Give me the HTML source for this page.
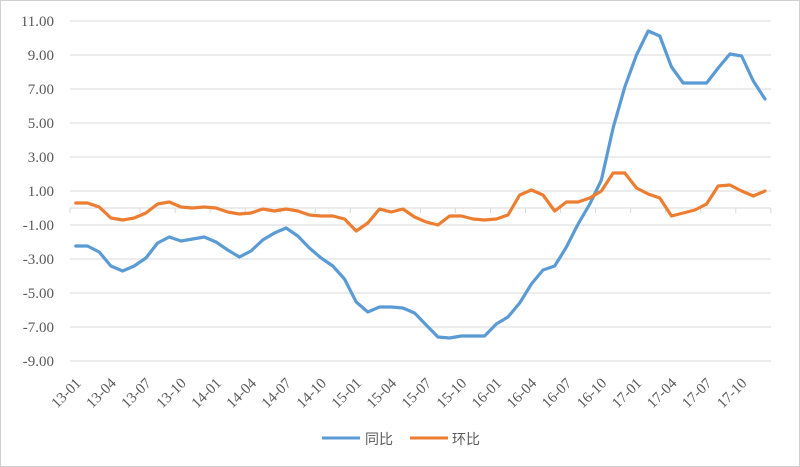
<!DOCTYPE html>
<html><head><meta charset="utf-8"><style>
html,body{margin:0;padding:0;background:#fff}
svg{display:block}
</style></head><body>
<svg id="s" width="800" height="467" xmlns="http://www.w3.org/2000/svg">
<rect x="0.5" y="0.5" width="799" height="466" fill="#fff" stroke="#d0d0d0"/>
<g id="grid"></g>
<g id="lbl" font-family="Liberation Serif, serif" font-size="15" fill="#595959"></g>
<polyline id="b" fill="none" stroke="#5b9bd5" stroke-width="3.2" stroke-linejoin="round" stroke-linecap="round"/>
<polyline id="o" fill="none" stroke="#ed7d31" stroke-width="3.2" stroke-linejoin="round" stroke-linecap="round"/>
<line x1="322" y1="438" x2="360" y2="438" stroke="#5b9bd5" stroke-width="3"/>
<text x="365" y="444" font-family="Liberation Sans, 'Noto Sans CJK SC', sans-serif" font-size="14" fill="#595959">同比</text>
<line x1="410" y1="438" x2="448" y2="438" stroke="#ed7d31" stroke-width="3"/>
<text x="452" y="444" font-family="Liberation Sans, 'Noto Sans CJK SC', sans-serif" font-size="14" fill="#595959">环比</text>
</svg>
<script>
var ns="http://www.w3.org/2000/svg";
function Y(v){return 21+(11-v)*17;}
function X(i){return 70+11.68*(i+0.5);}
var g=document.getElementById('grid'),l=document.getElementById('lbl');
function el(t,a,p,txt){var e=document.createElementNS(ns,t);for(var k in a)e.setAttribute(k,a[k]);if(txt)e.textContent=txt;p.appendChild(e);return e;}
for(var v=11;v>=-9;v-=2){var y=Y(v);el('line',{x1:70,x2:771,y1:y,y2:y,stroke:'#d9d9d9','stroke-width':1},g);
el('text',{x:54,y:y+5,'text-anchor':'end'},l,v.toFixed(2));}
var z=Y(0);el('line',{x1:70,x2:771,y1:z,y2:z,stroke:'#d9d9d9','stroke-width':1},g);
for(var i=0;i<=20;i++){var x=70+11.68*3*i;el('line',{x1:x,x2:x,y1:z,y2:z+5,stroke:'#d9d9d9'},g);}
var labs=['13-01','13-04','13-07','13-10','14-01','14-04','14-07','14-10','15-01','15-04','15-07','15-10','16-01','16-04','16-07','16-10','17-01','17-04','17-07','17-10'];
for(var i=0;i<labs.length;i++){var x=X(i*3)+6,y=384;el('text',{x:x,y:y,'text-anchor':'end',transform:'rotate(-45 '+x+' '+y+')'},l,labs[i]);}
var b=[246,246,252,266,271,266,258,243,237,241,239,237,242,250,257,251,240,233,228,236,248,258,266,279,302,312,307,307,308,313,325,337,338,336,336,336,324,317,303,284,270,266,247,224,204,180,128,87,55,31,36,67,83,83,83,68,54,56,81,99];
var o=[203,203,207,218,220,218,213,204,202,207,208,207,208,212,214,213,209,211,209,211,215,216,216,219,231,223,209,212,209,217,222,225,216,216,219,220,219,215,195,190,195,211,202,202,198,191,173,173,188,194,198,216,213,210,204,186,185,191,196,191];
function pts(a){return a.map(function(y,i){return X(i).toFixed(1)+','+y;}).join(' ');}
document.getElementById('b').setAttribute('points',pts(b));
document.getElementById('o').setAttribute('points',pts(o));
</script>
</body></html>
